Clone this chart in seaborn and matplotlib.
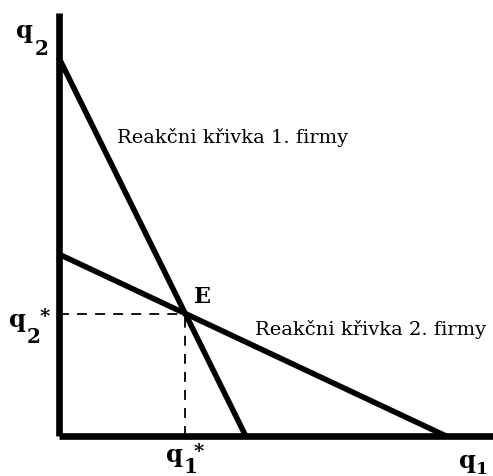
import numpy as np
import pandas as pd
import matplotlib
matplotlib.use("Agg")
import matplotlib.pyplot as plt
import seaborn as sns

sns.set_theme(style="white")
plt.rcParams["font.family"] = ["DejaVu Serif"]

# Reaction curves given by their intercepts on the q1 and q2 axes
firms = ["Reakčni křivka 1. firmy", "Reakčni křivka 2. firmy"]
q2_intercepts = [379, 182]
q1_intercepts = [187, 387]
axis_max_q1 = 434
axis_max_q2 = 423

rows = []
for name, a, b in zip(firms, q2_intercepts, q1_intercepts):
    rows.append({"firm": name, "q1": 0, "q2": a})
    rows.append({"firm": name, "q1": b, "q2": 0})
df = pd.DataFrame(rows)

# Nash equilibrium: intersection of the two reaction curves
(a1, a2), (b1, b2) = q2_intercepts, q1_intercepts
s1, s2 = a1 / b1, a2 / b2
q1_star = (a1 - a2) / (s1 - s2)
q2_star = a1 - s1 * q1_star

W, H = 493, 477
fig = plt.figure(figsize=(W / 100, H / 100), dpi=100)
ax = fig.add_axes([58.5 / W, (H - 437) / H, (W - 58.5) / W, (437 - 14) / H])

sns.lineplot(data=df, x="q1", y="q2", units="firm", estimator=None,
             color="black", linewidth=4.0, ax=ax, legend=False,
             solid_capstyle="butt", clip_on=False)

dash = dict(color="black", lw=1.3, dashes=(5.5, 4.5), clip_on=False)
ax.plot([0, q1_star], [q2_star, q2_star], **dash)
ax.plot([q1_star, q1_star], [0, q2_star], **dash)

ax.set_xlim(0, axis_max_q1)
ax.set_ylim(0, axis_max_q2)
ax.set_xlabel("")
ax.set_ylabel("")
ax.set_xticks([])
ax.set_yticks([])
for side in ["top", "right"]:
    ax.spines[side].set_visible(False)
for side in ["left", "bottom"]:
    ax.spines[side].set_color("black")
    ax.spines[side].set_linewidth(4.8)
    ax.spines[side].set_capstyle("butt")


def put(x, y, s, **kw):
    # place text at a figure-pixel position (origin top-left)
    fig.text(x / W, 1 - y / H, s, color="black", **kw)


qfont = dict(fontsize=17.5, fontweight="bold", va="baseline", ha="left")
sub = dict(fontsize=14.5, fontweight="bold", va="baseline", ha="left")
star = dict(fontsize=14, fontweight="bold", ha="center", va="center")

# axis names and equilibrium quantities
put(16, 38, "q", **qfont)
put(35, 55, "2", **sub)

put(9, 327, "q", **qfont)
put(27, 343, "2", **sub)
put(45, 317, "*", **star)

put(166, 462, "q", **qfont)
put(184, 473, "1", **sub)
put(199, 452, "*", **star)

put(459, 468, "q", **qfont)
put(476, 474, "1", fontsize=12.5, fontweight="bold", va="baseline",
    ha="left")

put(194, 303, "E", ha="left", fontsize=16, fontweight="bold",
    va="baseline")

put(117, 143, firms[0], fontsize=14, ha="left", va="baseline")
put(255, 335, firms[1], fontsize=14, ha="left", va="baseline")

fig.savefig("out.png", dpi=100)
